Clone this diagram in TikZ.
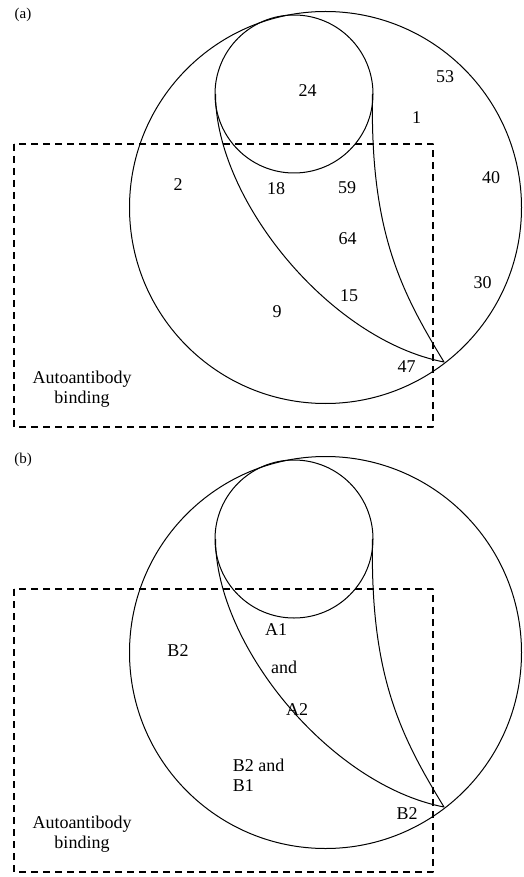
\documentclass[tikz,border=0pt]{standalone}
\usepackage{fontspec}
\setmainfont{Liberation Serif}
\usepackage{tikz}
\usetikzlibrary{positioning}
\tikzset{
    every picture/.style={
        font=\fontsize{18}{20}\selectfont,
        line join=round
    },
    % outlines of the sets
    setline/.style={draw=black,line width=1pt},
    bindbox/.style={draw=black,line width=1.6pt,dash pattern=on 7pt off 5pt},
    % labels
    count/.style={inner sep=0pt,align=center},
    panel/.style={inner sep=0pt,font=\fontsize{15}{17}\selectfont}
}

\begin{document}
\begin{tikzpicture}[x=1pt,y=-1pt]
  \useasboundingbox (0,0) rectangle (523,877);

  % Panel (a): counts
  \node[panel] at (23,15) (tagA) {(a)};
  \draw[bindbox] (14,144) rectangle (433,427);
  \draw[setline] (325.5,207.5) circle[radius=196];
  \draw[setline] (294,94) circle[radius=79];
  \draw[setline] (215.5,94) .. controls (215.5,200) and (330,340) .. (444,362)
                          .. controls (400,290) and (370,230) .. (372.5,94);

  \node[count] at (307.5,91) (a24) {24};
  \node[count] at (445,77) (a53) {53};
  \node[count] at (416.5,118) (a1) {1};
  \node[count] at (491,178) (a40) {40};
  \node[count] at (178,185) (a2) {2};
  \node[count] at (276,189) (a18) {18};
  \node[count] at (347,188) (a59) {59};
  \node[count] at (347.5,239) (a64) {64};
  \node[count] at (482.5,283) (a30) {30};
  \node[count] at (349,296) (a15) {15};
  \node[count] at (277,312) (a9) {9};
  \node[count] at (406.5,367) (a47) {47};
  \node[count] at (82,389) (abind) {Autoantibody\\binding};

  % Panel (b): epitopes, same outlines shifted down
  \begin{scope}[shift={(0,445)}]
    \node[panel] at (23,15) (tagB) {(b)};
    \draw[bindbox] (14,144) rectangle (433,427);
    \draw[setline] (325.5,207.5) circle[radius=196];
    \draw[setline] (294,94) circle[radius=79];
    \draw[setline] (215.5,94) .. controls (215.5,200) and (330,340) .. (444,362)
                            .. controls (400,290) and (370,230) .. (372.5,94);

    \node[count] at (178,206) (bB2) {B2};
    \node[count] at (276,185) (bA1) {A1};
    \node[count] at (284,222) (band) {and};
    \node[count] at (297,264.5) (bA2) {A2};
    \node[count,align=left] at (258.5,330) (bB2B1) {B2 and\\B1};
    \node[count] at (407,369) (bB2tip) {B2};
    \node[count] at (82,389) (bbind) {Autoantibody\\binding};
  \end{scope}
\end{tikzpicture}
\end{document}
